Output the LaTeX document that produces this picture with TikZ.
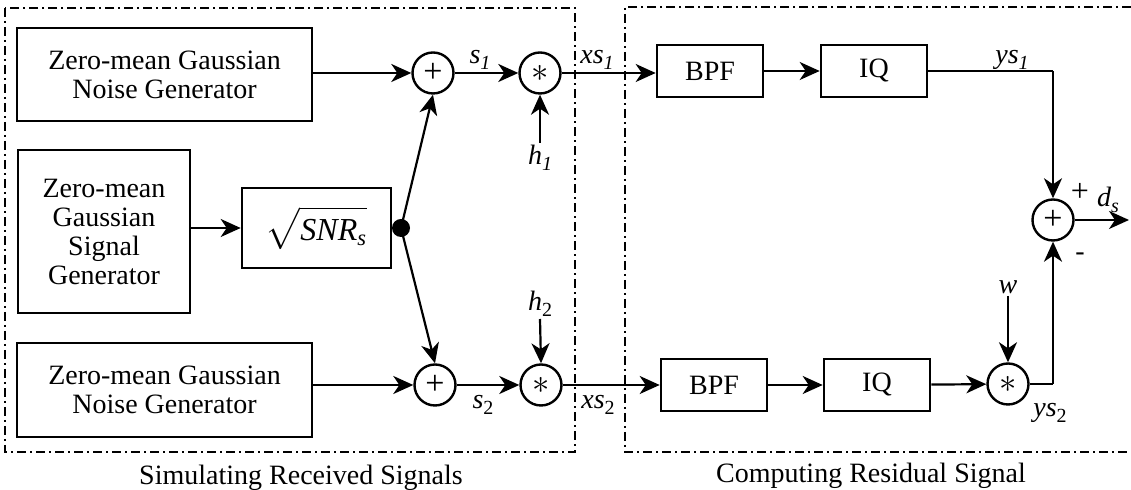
\documentclass[tikz,border=0pt]{standalone}
\usepackage{amsmath}
\usepackage{fontspec}
\setmainfont{Liberation Serif}
\newfontfamily\tnr{Liberation Serif}
\usetikzlibrary{arrows.meta}
\newcommand\sublab[2]{\textit{#1}\raisebox{-0.45ex}{\fontsize{10}{10}\selectfont #2}}
\begin{document}
\begin{tikzpicture}[x=0.5pt,y=-0.5pt,
  blk/.style={draw, line width=1.3pt, rectangle, inner sep=0pt, align=center, font=\tnr\fontsize{14}{14.5}\selectfont},
  op/.style={draw, circle, line width=1.2pt, inner sep=0pt, minimum size=20.5pt, font=\tnr\fontsize{17}{17}\selectfont},
  conn/.style={line width=1.1pt, -{Stealth[length=10pt,width=9pt,inset=3pt]}},
  wire/.style={line width=1.1pt},
  lbl/.style={inner sep=1pt, font=\tnr\fontsize{14}{14}\selectfont},
  frame/.style={line width=1.2pt, dash pattern=on 4.5pt off 2pt on 1pt off 2pt},
  title/.style={inner sep=0pt, font=\tnr\fontsize{14}{14}\selectfont}]
\useasboundingbox (0,0) rectangle (1131,490);

% frames
\draw[frame] (5,8) rectangle (575,452);
\draw[frame] (1131,7) -- (625,7) -- (625,452) -- (1131,452);
\node[title] (t1) at (301,478) {Simulating Received Signals};
\node[title] (t2) at (871,476) {Computing Residual Signal};

% left blocks
\node[blk, minimum width=147.5pt, minimum height=46.5pt] (n1) at (164.5,74.5) {Zero-mean Gaussian\\Noise Generator};
\node[blk, minimum width=86pt, minimum height=81.5pt] (sg) at (104,231.5) {Zero-mean\\Gaussian\\Signal\\Generator};
\node[blk, minimum width=74.5pt, minimum height=40pt, font=\tnr\fontsize{16}{16}\selectfont] (snr) at (316.5,228) {$\displaystyle\sqrt{\textit{SNR}_{\textit{s}}\mathstrut}$};
\node[blk, minimum width=147.5pt, minimum height=47pt] (n2) at (164.5,390) {Zero-mean Gaussian\\Noise Generator};

\node[op] (a1) at (433,73) {+};
\node[op] (m1) at (540,73) {$\ast$};
\node[op] (a2) at (435,385) {+};
\node[op] (m2) at (541,385) {$\ast$};
\node[circle, fill, inner sep=0pt, minimum size=9pt] (dot) at (401,228) {};

% right blocks
\node[blk, minimum width=53pt, minimum height=26pt] (b1) at (710,71) {BPF};
\node[blk, minimum width=53pt, minimum height=26pt] (q1) at (874,71) {IQ};
\node[blk, minimum width=53pt, minimum height=26pt] (b2) at (714,385) {BPF};
\node[blk, minimum width=53pt, minimum height=26pt] (q2) at (877,385) {IQ};
\node[op] (m3) at (1008,384) {$\ast$};
\node[op] (a3) at (1053,220) {+};
\coordinate (c1) at (1053,71);
\coordinate (c2) at (1053,384);
\coordinate (out) at (1129,220);

% labels
\node[lbl] (ls1) at (480,60) {\sublab{s}{\textit{1}}};
\node[lbl] (lxs1) at (597,60) {\sublab{xs}{\textit{1}}};
\node[lbl] (lh1) at (540,158) {\sublab{h}{\textit{1}}};
\node[lbl] (lys1) at (1012,60) {\sublab{ys}{\textit{1}}};
\node[lbl] (lh2) at (540,304) {\sublab{h}{2}};
\node[lbl] (ls2) at (483,405) {\sublab{s}{2}};
\node[lbl] (lxs2) at (598,405) {\sublab{xs}{2}};
\node[lbl] (lw) at (1008,287) {\textit{w}};
\node[lbl] (lys2) at (1050,413) {\sublab{ys}{2}};
\node[lbl, font=\tnr\fontsize{16}{16}\selectfont] (lp) at (1080,192) {+};
\node[lbl] (lds) at (1108,200) {\sublab{d}{\textit{s}}};
\node[lbl] (lm) at (1080,257) {-};

% connectors left
\draw[conn] (n1.east |- a1.west) -- (a1.west);
\draw[conn] (a1) -- (m1);
\draw[conn] (sg.east |- snr.west) -- (snr.west);
\draw[wire] (snr.east) -- (dot);
\draw[conn] (dot.center) -- (a1.south);
\draw[conn] (dot.center) -- (a2.north);
\draw[conn] (n2.east |- a2.west) -- (a2.west);
\draw[conn] (a2) -- (m2);
\draw[conn] (lh1.north) -- (m1.south);
\draw[conn] (lh2.south) -- (m2.north);

% connectors right
\draw[conn] (m1.east) -- (b1.west |- m1.east);
\draw[conn] (b1) -- (q1);
\draw[wire] (q1.east) -- (c1);
\draw[conn] (c1) -- (a3.north);
\draw[conn] (m2.east) -- (b2.west |- m2.east);
\draw[conn] (b2) -- (q2);
\draw[conn] (q2) -- (m3);
\draw[conn] (lw.south) -- (m3.north);
\draw[wire] (m3.east) -- (c2);
\draw[conn] (c2) -- (a3.south);
\draw[conn] (a3.east) -- (out);
\end{tikzpicture}
\end{document}
